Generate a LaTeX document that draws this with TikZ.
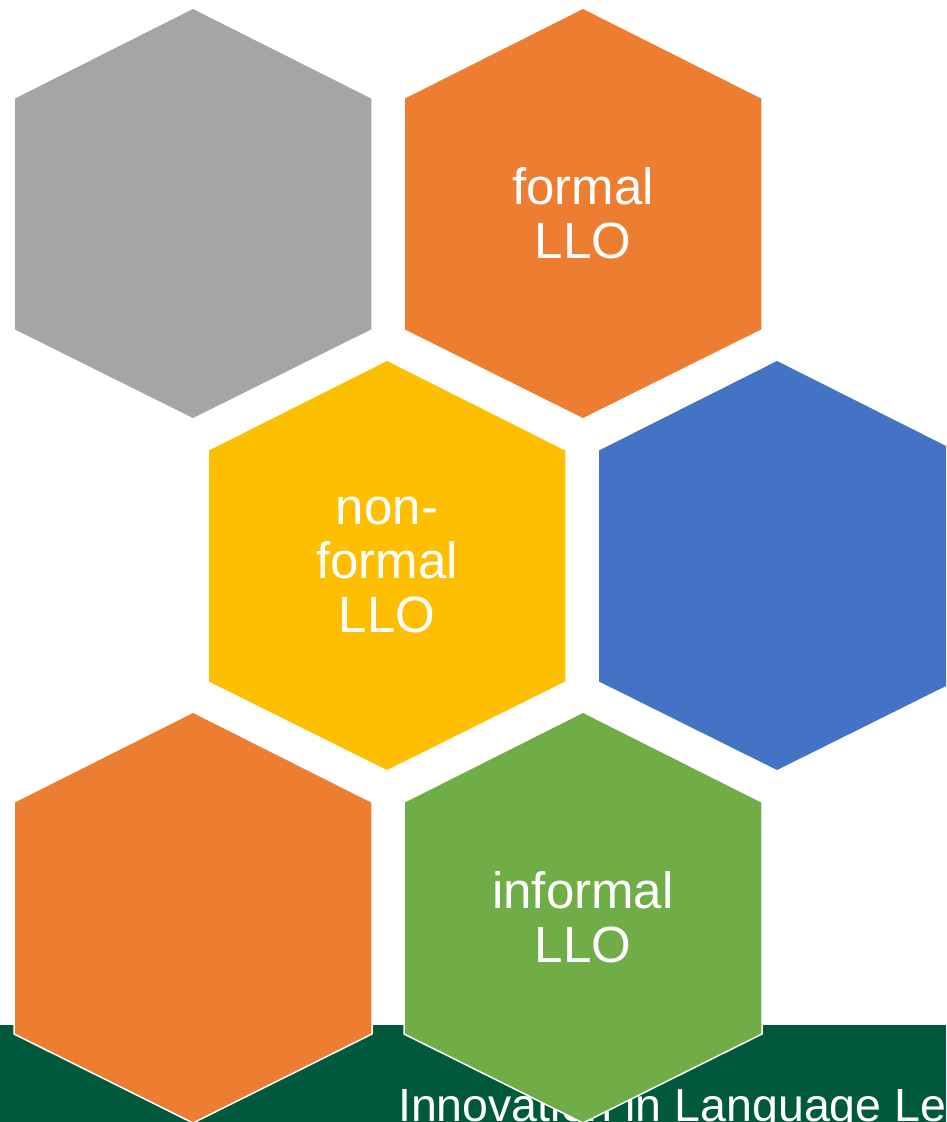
\documentclass[tikz,border=0pt]{standalone}
\usepackage{fontspec}
\setmainfont{Liberation Sans}
\definecolor{hexgray}{HTML}{A5A5A5}
\definecolor{hexorange}{HTML}{ED7D31}
\definecolor{hexyellow}{HTML}{FDBF00}
\definecolor{hexblue}{HTML}{4472C4}
\definecolor{hexgreen}{HTML}{70AD47}
\definecolor{barGreen}{HTML}{00583D}
\tikzset{
  hexlabel/.style={text=white, align=center, font=\fontsize{51}{54}\selectfont},
  hexcell/.style={draw=white, line width=1.5pt, line join=miter}
}
\begin{document}
\begin{tikzpicture}[x=1pt,y=-1pt]
\useasboundingbox (0,0) rectangle (946,1122);
\clip (0,0) rectangle (946,1122);
\fill[barGreen] (0,1025) rectangle (946,1122);
\node[anchor=base west, text=white, inner sep=0pt, font=\fontsize{46.5}{50}\selectfont] (footer) at (398,1121) {Innovation in Language Learning};
\foreach \cx/\cy/\col/\nm in {193/213.5/hexgray/gray, 583/213.5/hexorange/formal,
  387/565.5/hexyellow/nonformal, 777/565.5/hexblue/blue,
  193/917.5/hexorange/orange, 583/917.5/hexgreen/informal}
  \filldraw[hexcell, fill=\col] (\cx,\cy-205.5) -- (\cx+179,\cy-115.5) -- (\cx+179,\cy+116.5)
    -- (\cx,\cy+205.5) -- (\cx-179,\cy+116.5) -- (\cx-179,\cy-115.5) -- cycle;
\node[hexlabel] (formal) at (583,213.5) {formal\\LLO};
\node[hexlabel] (nonformal) at (387,565.5) {non-\\formal\\LLO};
\node[hexlabel] (informal) at (583,917.5) {informal\\LLO};
\end{tikzpicture}
\end{document}
